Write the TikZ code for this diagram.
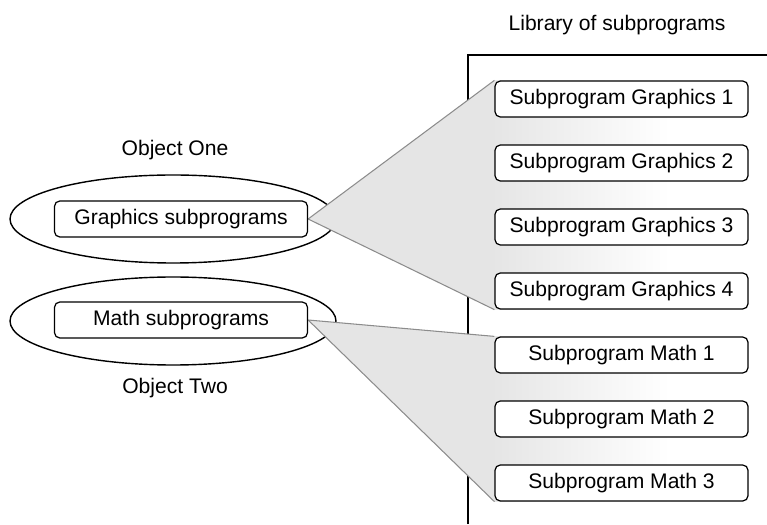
\documentclass[tikz,border=0pt]{standalone}
\usepackage{fontspec}
\setmainfont{Liberation Sans}
\usetikzlibrary{shapes.geometric}

\pgfdeclarelayer{back}
\pgfdeclarelayer{fans}
\pgfsetlayers{back,fans,main}

\begin{document}
\begin{tikzpicture}[
    font=\fontsize{12}{14}\selectfont,
    % Cajas de subprogramas (objetos y biblioteca)
    sub/.style={draw, rounded corners=3pt, line width=0.7pt, fill=white, minimum width=5.06cm, minimum height=0.72cm, inner sep=0pt},
    % Elipses de los objetos
    obj/.style={draw, ellipse, line width=0.8pt, minimum width=6.52cm, minimum height=1.76cm},
    % Abanicos grises y sus bordes
    fan/.style={fill=gray!20},
    fade/.style={left color=gray!20, right color=white},
    fanedge/.style={draw=gray!90, line width=0.6pt}
]
\useasboundingbox (0,0) rectangle (15.34,10.48);

% --- Subprogramas de la biblioteca ---
\node (libt) at (12.34,9.98) {Library of subprograms};
\node[sub] (g1) at (12.43,8.50) {Subprogram Graphics 1};
\node[sub] (g2) at (12.43,7.22) {Subprogram Graphics 2};
\node[sub] (g3) at (12.43,5.94) {Subprogram Graphics 3};
\node[sub] (g4) at (12.43,4.66) {Subprogram Graphics 4};
\node[sub] (m1) at (12.43,3.38) {Subprogram Math 1};
\node[sub] (m2) at (12.43,2.10) {Subprogram Math 2};
\node[sub] (m3) at (12.43,0.82) {Subprogram Math 3};

% --- Subprogramas de los objetos ---
\node (o1t) at (3.5,7.48) {Object One};
\node[sub] (gs) at (3.62,6.10) {Graphics subprograms};
\node[sub] (ms) at (3.62,4.08) {Math subprograms};
\node (o2t) at (3.5,2.72) {Object Two};

% --- Fondo: biblioteca y elipses ---
\begin{pgfonlayer}{back}
\coordinate (lib) at (9.36,9.38);
\draw[line width=1.1pt] (9.36,0) -- (lib) -- (15.34,9.38);
\node[obj] (o1) at (3.46,6.10) {};
\node[obj] (o2) at (3.46,4.06) {};
\end{pgfonlayer}

% --- Abanicos ---
\begin{pgfonlayer}{fans}
\fill[fan] (gs.east) -- (g1.north west) -- (g4.south west) -- cycle;
\shade[fade] (g1.north west) rectangle (13.4,0 |- g4.south);
\fill[fan] (ms.east) -- (m1.north west) -- (m3.south west) -- cycle;
\shade[fade] (m1.north west) rectangle (13.4,0 |- m3.south);
\draw[fanedge] (g1.north west) -- (gs.east) -- (g4.south west);
\draw[fanedge] (m1.north west) -- (ms.east) -- (m3.south west);
\end{pgfonlayer}

\end{tikzpicture}
\end{document}
